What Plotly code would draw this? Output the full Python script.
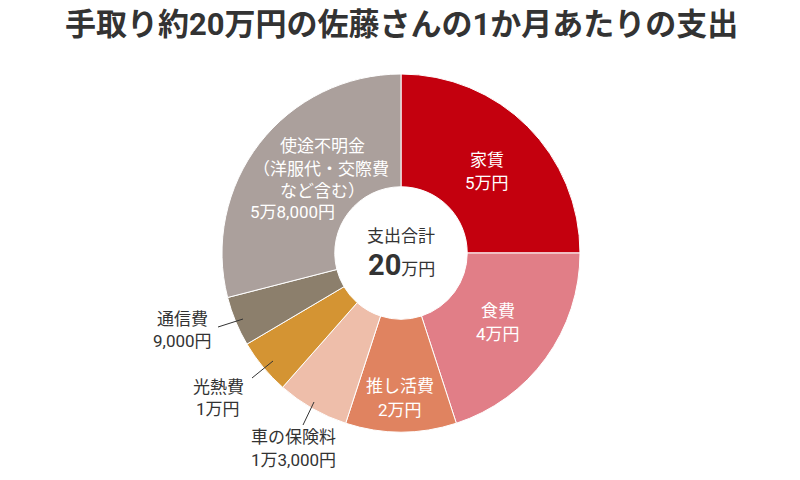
import plotly.graph_objects as go

# ---- data ----
categories = ["家賃", "食費", "推し活費", "車の保険料", "光熱費", "通信費", "使途不明金"]
values = [50000, 40000, 20000, 13000, 10000, 9000, 58000]
value_labels = ["5万円", "4万円", "2万円", "1万3,000円", "1万円", "9,000円", "5万8,000円"]
colors = ["#C4000E", "#E17E87", "#E08360", "#EEBEAA", "#D49433", "#8C7F6C", "#ABA09C"]
title_text = "手取り約20万円の佐藤さんの1か月あたりの支出"
center_title = "支出合計"
total_man = sum(values) // 10000

W, H = 800, 480
FONT = "Roboto, Noto Sans CJK JP"
LBL = 17

def px(x, y):
    return x / W, 1 - y / H

dx0, dy1 = px(222, 74)
dx1, dy0 = px(580, 432)

fig = go.Figure(go.Pie(
    labels=categories,
    values=values,
    sort=False,
    direction="clockwise",
    hole=0.37,
    marker=dict(colors=colors, line=dict(color="white", width=1)),
    textinfo="none",
    hoverinfo="label+value",
    showlegend=False,
    domain=dict(x=[dx0, dx1], y=[dy0, dy1]),
))

annotations = []

def add_text(text, x, y, size=LBL, color="#333333"):
    ax, ay = px(x, y)
    annotations.append(dict(text=text, x=ax, y=ay, xref="paper", yref="paper",
                            showarrow=False, xanchor="center", yanchor="middle",
                            font=dict(family=FONT, size=size, color=color)))

# inside labels (white)
inside_pos = {"家賃": (487, 160, 183), "食費": (498, 311, 334), "推し活費": (400, 386, 410)}
for cat, (x, y1, y2) in inside_pos.items():
    i = categories.index(cat)
    add_text(categories[i], x, y1, color="white")
    add_text(value_labels[i], x, y2, color="white")

# 使途不明金 (multi-line, white)
i = categories.index("使途不明金")
add_text(categories[i], 322, 146, color="white")
add_text("（洋服代・交際費", 321, 169, color="white")
add_text("など含む）", 322, 191, color="white")
add_text(value_labels[i], 292, 212, color="white")

# outside labels
outside_pos = {"通信費": (182, 319, 341), "光熱費": (218, 387, 409), "車の保険料": (293, 437, 460)}
for cat, (x, y1, y2) in outside_pos.items():
    i = categories.index(cat)
    add_text(categories[i], x, y1)
    add_text(value_labels[i], x, y2)

# center
add_text(center_title, 401, 236, size=17)
cx, cy = px(401, 265)
annotations.append(dict(
    text=f"<b>{total_man}</b><span style='font-size:17px'>万円</span>",
    x=cx, y=cy, xref="paper", yref="paper", showarrow=False,
    xanchor="center", yanchor="middle",
    font=dict(family=FONT, size=29, color="#333333")))

# leader lines
leaders = [((218, 327), (243, 319)), ((252, 378), (273, 361)), ((303, 425), (314, 402))]
shapes = []
for (x0, y0), (x1, y1) in leaders:
    a0, b0 = px(x0, y0)
    a1, b1 = px(x1, y1)
    shapes.append(dict(type="line", xref="paper", yref="paper", x0=a0, y0=b0, x1=a1, y1=b1,
                       line=dict(color="#333333", width=1)))

tx, ty = px(401, 24)
annotations.append(dict(text=f"<b>{title_text}</b>", x=tx, y=ty, xref="paper", yref="paper",
                        showarrow=False, xanchor="center", yanchor="middle",
                        font=dict(family=FONT, size=31, color="#333333")))

fig.update_layout(
    width=W, height=H,
    margin=dict(l=0, r=0, t=0, b=0),
    paper_bgcolor="white", plot_bgcolor="white",
    annotations=annotations, shapes=shapes,
)

fig.write_html("out.html",
               config={"displayModeBar": False},
               post_script="document.body.style.margin='0';document.body.style.overflow='hidden';")
